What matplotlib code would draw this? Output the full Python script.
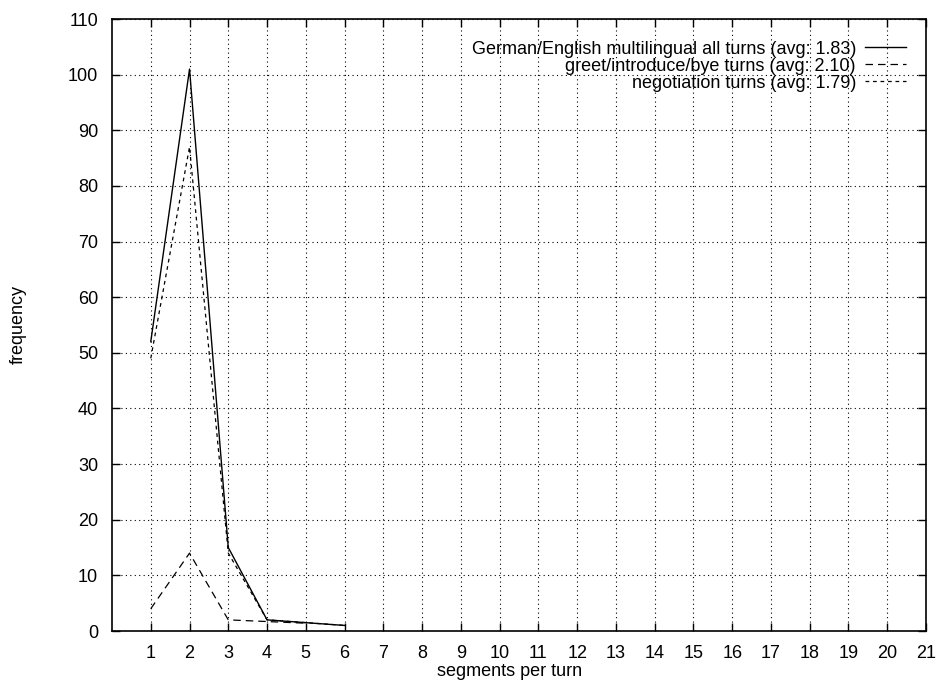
import matplotlib
matplotlib.use("Agg")
import matplotlib.pyplot as plt

x_all = [1, 2, 3, 4, 5, 6]
all_turns = [52, 101, 15, 2, 1.5, 1]
x_greet = [1, 2, 3, 4, 5]
greet_turns = [4, 14, 2, 1.7, 1.4]
x_neg = [1, 2, 3, 4, 5, 6]
neg_turns = [49, 87, 14, 2, 1.5, 1]

labels = ["German/English multilingual all turns (avg: 1.83)",
          "greet/introduce/bye turns (avg: 2.10)",
          "negotiation turns (avg: 1.79)"]
xticks = list(range(1, 22))
yticks = list(range(0, 111, 10))

plt.rcParams['font.family'] = ['Liberation Sans', 'DejaVu Sans']
fig = plt.figure(figsize=(9.37, 6.82), dpi=100)
ax = fig.add_axes([112/937, 1-631/682, (926-112)/937, (631-19)/682])

ax.plot(x_all, all_turns, color='black', lw=1.0, ls='-', label=labels[0])
ax.plot(x_greet, greet_turns, color='black', lw=0.9, ls=(0, (6, 4)), label=labels[1])
ax.plot(x_neg, neg_turns, color='black', lw=0.9, ls=(0, (3, 3)), label=labels[2])

ax.set_xlim(0, 21)
ax.set_ylim(0, 110)
ax.set_xticks(xticks)
ax.set_yticks(yticks)
ax.tick_params(direction='in', top=True, right=True, length=6, width=1, labelsize=13, colors='black')
ax.tick_params(axis='x', pad=10)
ax.tick_params(axis='y', pad=10)
ax.grid(True, color='black', ls=(0, (1, 3)), lw=0.8)
for s in ax.spines.values():
    s.set_linewidth(1.2)

fig.text(510/937, 1-671/682, "segments per turn", fontsize=13, ha='center', va='center')
fig.text(18/937, 1-325/682, "frequency", fontsize=13, rotation=90, ha='center', va='center')

leg = ax.legend(loc='upper right', frameon=False, fontsize=13, markerfirst=False,
                handlelength=2.3, handletextpad=0.5, labelspacing=0.0,
                bbox_to_anchor=(0.996, 0.991))
for t in leg.get_texts():
    t.set_ha('right')
leg._legend_box.align = 'right'

fig.savefig("out.png", dpi=100)
